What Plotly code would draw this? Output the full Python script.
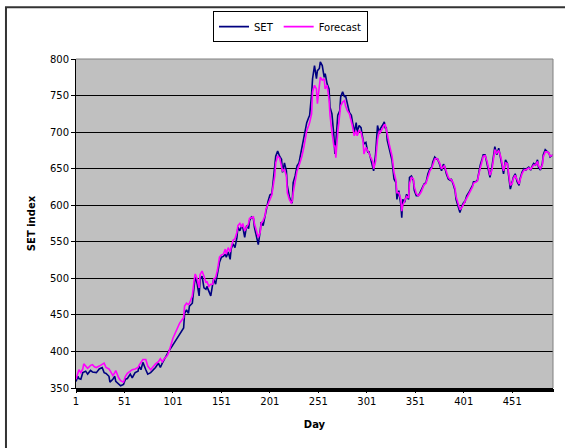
import plotly.graph_objects as go

# ---- data ----
days = [1, 3, 4, 6, 8, 9, 11, 13, 16, 18, 20, 22, 25, 28, 30, 32, 35, 36, 39, 41,
        42, 45, 47, 50, 52, 54, 57, 59, 62, 65, 66, 68, 70, 73, 75, 78, 81, 83, 86, 88,
        90, 92, 95, 97,
        101, 105, 108, 112, 113, 115, 117, 118, 121, 123, 124, 126, 128, 129, 131, 133, 135, 136, 138, 140,
        142, 143, 145, 147, 149, 151, 153, 155, 156, 158, 160, 161, 163, 165, 167, 168, 170, 172, 173, 175,
        177, 179, 180, 182, 184, 185, 187, 189, 191, 192, 194, 196, 197, 199, 201, 203, 204,
        206, 207, 209, 211, 213, 214, 216, 218, 219, 221, 223, 224, 225, 227, 229, 231, 232, 234, 236, 237,
        239, 241, 242, 244, 245, 247, 249, 250, 252, 253, 255, 257, 258, 260, 262, 263, 265, 267, 268, 269,
        271, 273, 274, 276, 278, 279, 281, 283, 285, 286, 288, 290, 291, 293, 295, 297, 298, 300, 302, 303,
        305,
        307, 308, 310, 312, 314, 315, 317, 319, 320, 321, 322, 324, 325, 327, 329, 331, 332, 334, 336, 337,
        338, 340, 342, 344, 345, 347, 349, 350, 352, 354, 355, 357, 359, 360, 362, 364, 366, 368, 369, 371,
        373, 374, 376, 378, 380, 381, 383, 385, 387, 388, 390, 392, 393, 395, 397, 399, 401, 402, 404, 406,
        408, 410, 411, 413, 415, 416, 418, 420, 421, 423, 425, 427, 428, 430, 432, 433, 435, 437, 439, 440,
        442, 444, 446, 447, 449, 451, 452, 454, 456, 458, 459, 461, 463, 465, 466, 468, 470, 471, 473, 475,
        477, 478, 480, 482, 483, 485, 487, 489, 490, 492, 493]

set_index = [359, 366, 363, 362, 371, 372, 373, 369, 374, 372, 371, 371, 376, 378, 371, 370, 366, 358, 362, 366,
             359, 355, 353, 355, 362, 363, 369, 364, 371, 373, 380, 375, 385, 375, 369, 371, 375, 378, 384, 378,
             384, 389, 396, 401,
             409, 418, 425, 432, 452, 457, 452, 462, 466, 494, 503, 492, 476, 499, 503, 487, 485, 489, 482, 476,
             492, 499, 492, 508, 522, 529, 530, 533, 529, 536, 526, 540, 547, 542, 556, 570, 565, 572, 570, 556,
             572, 568, 579, 584, 582, 570, 559, 546, 565, 577, 572, 586, 595, 605, 614, 616, 628,
             654, 667, 674, 667, 663, 645, 658, 647, 626, 612, 604, 603, 631, 640, 654, 658, 665, 679, 693, 700,
             713, 720, 723, 752, 773, 791, 773, 784, 787, 796, 791, 775, 780, 766, 759, 734, 725, 695, 670, 686,
             723, 729, 748, 755, 748, 750, 736, 727, 723, 716, 700, 713, 700, 709, 706, 690, 684, 686, 672, 674,
             663,
             652, 647, 670, 709, 698, 705, 709, 714, 705, 707, 689, 679, 675, 661, 636, 631, 608, 620, 601, 583,
             608, 604, 615, 608, 638, 640, 634, 620, 613, 613, 615, 620, 627, 629, 631, 643, 650, 652, 659, 666,
             663, 663, 656, 647, 656, 654, 643, 636, 634, 636, 629, 620, 608, 599, 590, 599, 604, 604, 613, 617,
             622, 627, 632, 632, 634, 643, 655, 664, 669, 669, 657, 645, 638, 652, 669, 680, 669, 678, 664, 657,
             643, 662, 657, 643, 622, 632, 638, 643, 632, 627, 636, 645, 650, 648, 650, 652, 648, 652, 657, 655,
             662, 652, 648, 657, 669, 676, 673, 671, 666, 669, 669]

forecast = [362, 372, 375, 371, 376, 383, 380, 377, 381, 382, 379, 378, 380, 383, 384, 378, 376, 374, 367, 371,
            374, 364, 360, 358, 366, 370, 373, 375, 376, 378, 381, 386, 389, 389, 380, 375, 380, 383, 386, 390,
            386, 390, 394, 400,
            418, 430, 439, 446, 462, 466, 464, 466, 476, 499, 506, 499, 487, 505, 510, 503, 494, 496, 489, 492,
            492, 499, 501, 512, 529, 532, 533, 540, 533, 542, 536, 542, 552, 554, 563, 572, 575, 570, 575, 565,
            570, 575, 582, 583, 584, 575, 565, 556, 563, 575, 579, 586, 595, 602, 609, 614, 623,
            640, 658, 667, 665, 654, 647, 649, 640, 617, 608, 603, 605, 617, 635, 647, 654, 658, 667, 679, 688,
            702, 709, 713, 725, 755, 764, 759, 739, 766, 775, 771, 773, 759, 764, 745, 723, 700, 681, 681, 665,
            700, 725, 736, 741, 743, 736, 729, 725, 716, 709, 695, 702, 695, 702, 700, 688, 670, 679, 674, 672,
            665,
            660, 650, 660, 690, 702, 700, 706, 710, 710, 705, 698, 684, 677, 667, 645, 634, 617, 617, 608, 592,
            600, 606, 612, 610, 630, 638, 636, 625, 616, 613, 614, 618, 624, 628, 630, 640, 647, 651, 656, 663,
            664, 663, 658, 650, 653, 654, 646, 638, 635, 635, 631, 623, 612, 603, 594, 597, 602, 604, 610, 615,
            620, 625, 630, 631, 633, 640, 651, 661, 667, 668, 660, 648, 641, 648, 664, 676, 671, 675, 667, 659,
            647, 658, 657, 646, 627, 630, 636, 641, 634, 629, 634, 643, 648, 648, 649, 651, 649, 651, 655, 655,
            660, 654, 650, 655, 666, 673, 673, 671, 667, 668, 669]

x_ticks = [1, 51, 101, 151, 201, 251, 301, 351, 401, 451]
y_ticks = [350, 400, 450, 500, 550, 600, 650, 700, 750, 800]

FONT = "DejaVu Sans"

fig = go.Figure()
fig.add_trace(go.Scatter(x=days, y=set_index, mode="lines", name="SET",
                         line=dict(color="#000080", width=1.6)))
fig.add_trace(go.Scatter(x=days, y=forecast, mode="lines", name="Forecast",
                         line=dict(color="#FF00FF", width=1.6)))

fig.update_layout(
    width=565, height=448, autosize=False,
    margin=dict(l=76, r=12, t=58, b=60, pad=0),
    paper_bgcolor="white", plot_bgcolor="#C0C0C0",
    font=dict(family=FONT, size=10, color="black"),
    showlegend=True,
    legend=dict(orientation="h", x=0.4497, xanchor="center", y=1.142, yanchor="top",
                bgcolor="white", bordercolor="black", borderwidth=1,
                font=dict(family=FONT, size=10, color="black"),
                itemwidth=30, tracegroupgap=0),
    xaxis=dict(range=[1, 493], tickmode="array", tickvals=x_ticks,
               ticktext=[str(t) for t in x_ticks],
               ticks="outside", ticklen=4, tickcolor="black", tickwidth=1,
               showline=True, linecolor="black", linewidth=1,
               showgrid=False, zeroline=False, automargin=False,
               minor=dict(dtick=1, tick0=1, ticks="outside", ticklen=3,
                          tickcolor="black", tickwidth=1, showgrid=False),
               title=dict(text="<b>Day</b>", standoff=14,
                          font=dict(family=FONT, size=10, color="black"))),
    yaxis=dict(range=[350, 800], tickmode="array", tickvals=y_ticks,
               ticks="outside", ticklen=4, tickcolor="black", tickwidth=1,
               showline=True, linecolor="black", linewidth=1,
               showgrid=True, gridcolor="black", gridwidth=1,
               zeroline=False, automargin=False,
               title=dict(text="<b>SET index</b>", standoff=12,
                          font=dict(family=FONT, size=10, color="black"))),
    shapes=[
        dict(type="line", xref="paper", yref="paper", x0=0, x1=1, y0=1, y1=1,
             line=dict(color="#808080", width=1), layer="above"),
        dict(type="line", xref="paper", yref="paper", x0=1, x1=1, y0=0, y1=1,
             line=dict(color="#808080", width=1), layer="above"),
        dict(type="rect", xref="paper", yref="paper",
             x0=-0.1468, x1=1.06, y0=-0.22, y1=1.1576,
             line=dict(color="#333333", width=2), fillcolor="rgba(0,0,0,0)", layer="above"),
    ],
)

fig.write_html("out.html",
               config={"displayModeBar": False},
               post_script="document.body.style.margin='0';document.body.style.padding='0';")
